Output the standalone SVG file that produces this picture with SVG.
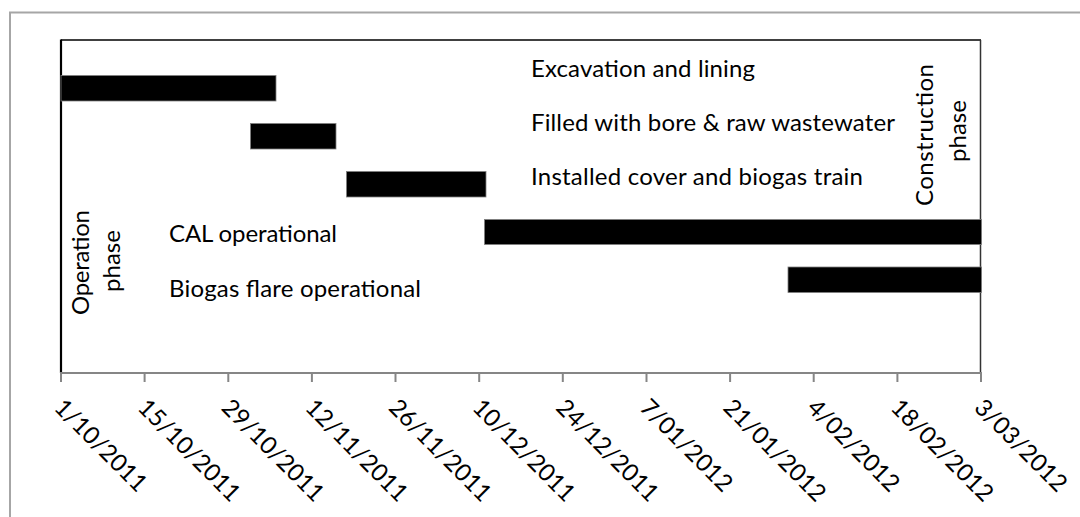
<svg xmlns="http://www.w3.org/2000/svg" width="1080" height="517" viewBox="0 0 1080 517">
<style>
.lbl{font-family:Lato,"Liberation Sans",sans-serif;font-size:24px;fill:#000}
.ax{font-family:Lato,"Liberation Sans",sans-serif;font-size:24px;fill:#000}
.bar{fill:#000;stroke:#7f7f7f;stroke-width:0.8}
.tick{stroke:#868686;stroke-width:2}
</style>
<rect x="0" y="0" width="1080" height="517" fill="#fff"/>
<rect id="chart-frame" x="10" y="12.5" width="1100" height="600" fill="#fff" stroke="#a6a6a6" stroke-width="2"/>
<g id="plot-area">
<line x1="61" y1="40" x2="981" y2="40" stroke="#000" stroke-width="1.6"/>
<line x1="980.5" y1="40" x2="980.5" y2="373" stroke="#333" stroke-width="1.5"/>
<line x1="61" y1="39.5" x2="61" y2="373" stroke="#000" stroke-width="2.2"/>
</g>
<g id="task-excavation">
<rect class="bar" x="61" y="75.5" width="215" height="25.5"/>
<text class="lbl" x="531" y="77" textLength="224">Excavation and lining</text>
</g>
<g id="task-filled">
<rect class="bar" x="250.5" y="123.5" width="85.5" height="25.5"/>
<text class="lbl" x="531" y="131" textLength="364">Filled with bore &amp; raw wastewater</text>
</g>
<g id="task-cover">
<rect class="bar" x="346.5" y="171.5" width="139.5" height="25.5"/>
<text class="lbl" x="531" y="185" textLength="332">Installed cover and biogas train</text>
</g>
<g id="task-cal">
<rect class="bar" x="484.5" y="219.5" width="497" height="25"/>
<text class="lbl" x="169" y="242" textLength="168">CAL operational</text>
</g>
<g id="task-flare">
<rect class="bar" x="788" y="267" width="193.5" height="25.5"/>
<text class="lbl" x="169" y="297" textLength="252">Biogas flare operational</text>
</g>
<g id="operation-phase">
<text class="lbl" text-anchor="middle" textLength="105" transform="translate(88.5,262.5) rotate(-90)">Operation</text>
<text class="lbl" text-anchor="middle" transform="translate(120,261) rotate(-90)">phase</text>
</g>
<g id="construction-phase">
<text class="lbl" text-anchor="middle" textLength="142" transform="translate(933,135) rotate(-90)">Construction</text>
<text class="lbl" text-anchor="middle" transform="translate(965.5,131) rotate(-90)">phase</text>
</g>
<g id="x-axis">
<line x1="60" y1="373" x2="982" y2="373" stroke="#868686" stroke-width="2"/>
<line class="tick" x1="61" y1="373" x2="61" y2="382"/>
<line class="tick" x1="144.6" y1="373" x2="144.6" y2="382"/>
<line class="tick" x1="228.3" y1="373" x2="228.3" y2="382"/>
<line class="tick" x1="311.9" y1="373" x2="311.9" y2="382"/>
<line class="tick" x1="395.5" y1="373" x2="395.5" y2="382"/>
<line class="tick" x1="479.2" y1="373" x2="479.2" y2="382"/>
<line class="tick" x1="562.8" y1="373" x2="562.8" y2="382"/>
<line class="tick" x1="646.5" y1="373" x2="646.5" y2="382"/>
<line class="tick" x1="730.1" y1="373" x2="730.1" y2="382"/>
<line class="tick" x1="813.7" y1="373" x2="813.7" y2="382"/>
<line class="tick" x1="897.4" y1="373" x2="897.4" y2="382"/>
<line class="tick" x1="981" y1="373" x2="981" y2="382"/>
<text class="ax" transform="translate(53,409) rotate(45)">1/10/2011</text>
<text class="ax" transform="translate(136.6,409) rotate(45)">15/10/2011</text>
<text class="ax" transform="translate(220.3,409) rotate(45)">29/10/2011</text>
<text class="ax" transform="translate(303.9,409) rotate(45)">12/11/2011</text>
<text class="ax" transform="translate(387.5,409) rotate(45)">26/11/2011</text>
<text class="ax" transform="translate(471.2,409) rotate(45)">10/12/2011</text>
<text class="ax" transform="translate(554.8,409) rotate(45)">24/12/2011</text>
<text class="ax" transform="translate(638.5,409) rotate(45)">7/01/2012</text>
<text class="ax" transform="translate(722.1,409) rotate(45)">21/01/2012</text>
<text class="ax" transform="translate(805.7,409) rotate(45)">4/02/2012</text>
<text class="ax" transform="translate(889.4,409) rotate(45)">18/02/2012</text>
<text class="ax" transform="translate(973,409) rotate(45)">3/03/2012</text>
</g>
</svg>
